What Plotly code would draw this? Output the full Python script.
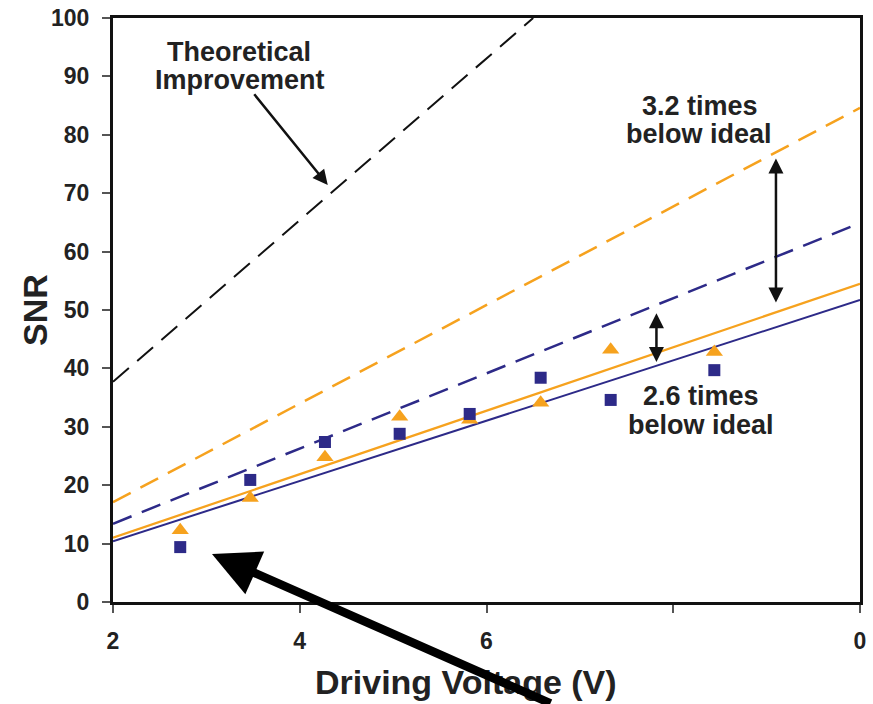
import plotly.graph_objects as go

# ---- data ----
voltage = [2.72, 3.47, 4.27, 5.07, 5.82, 6.58, 7.33, 8.44]
snr_triangles = [12.3, 17.8, 24.8, 31.7, 31.2, 34.1, 43.2, 42.8]
snr_squares = [9.4, 20.9, 27.4, 28.8, 32.2, 38.4, 34.6, 39.7]

fit_x = [2, 10]
orange_ideal = [17.1, 84.6]
blue_ideal = [13.4, 64.9]
orange_fit = [11.0, 54.5]
blue_fit = [10.4, 51.7]

theory_x = [2, 6.5]
theory_y = [37.7, 100.0]

x_tickvals = [2, 4, 6, 8, 10]
x_ticktext = ["2", "4", "6", "", "0"]
y_tickvals = [0, 10, 20, 30, 40, 50, 60, 70, 80, 90, 100]

ORANGE = "#F6A21E"
BLUE = "#2D2A88"
FONT = "Liberation Sans"
TXT = "#222222"

fig = go.Figure()

fig.add_trace(go.Scatter(x=theory_x, y=theory_y, mode="lines",
                         line=dict(color="#111111", width=2, dash="21px,11px")))
fig.add_trace(go.Scatter(x=fit_x, y=orange_ideal, mode="lines",
                         line=dict(color=ORANGE, width=2.5, dash="20px,11px")))
fig.add_trace(go.Scatter(x=fit_x, y=blue_ideal, mode="lines",
                         line=dict(color=BLUE, width=2.5, dash="20px,11px")))
fig.add_trace(go.Scatter(x=fit_x, y=orange_fit, mode="lines",
                         line=dict(color=ORANGE, width=2.3)))
fig.add_trace(go.Scatter(x=fit_x, y=blue_fit, mode="lines",
                         line=dict(color=BLUE, width=2)))
fig.add_trace(go.Scatter(x=voltage, y=snr_triangles, mode="markers",
                         marker=dict(symbol="triangle-up", size=15, color=ORANGE)))
fig.add_trace(go.Scatter(x=voltage, y=snr_squares, mode="markers",
                         marker=dict(symbol="square", size=12, color=BLUE)))

txtfont = dict(family=FONT, size=27, color=TXT, weight="bold")
titlefont = dict(family=FONT, size=34, color=TXT, weight="bold")


def px(xpix):
    return (xpix - 113) / 747


def py(ypix):
    return (602 - ypix) / 584


def label(xpix, ypix, text):
    return dict(x=px(xpix), y=py(ypix), xref="paper", yref="paper",
                text=text, showarrow=False, font=txtfont,
                xanchor="center", yanchor="middle")


annotations = [
    label(239, 52, "Theoretical"),
    label(240, 80, "Improvement"),
    label(700, 106, "3.2 times"),
    label(699, 134, "below ideal"),
    label(701, 396, "2.6 times"),
    label(701, 425, "below ideal"),
    # axis titles
    dict(x=px(466), y=py(682), xref="paper", yref="paper", text="Driving Voltage (V)",
         showarrow=False, font=titlefont, xanchor="center", yanchor="middle"),
    dict(x=px(35), y=py(310), xref="paper", yref="paper", text="SNR", textangle=-90,
         showarrow=False, font=titlefont, xanchor="center", yanchor="middle"),
    # theoretical arrow
    dict(x=4.30, y=71.4, xref="x", yref="y", ax=3.50, ay=87.2, axref="x", ayref="y",
         text="", showarrow=True, arrowhead=2, arrowwidth=2.5, arrowsize=1.2,
         arrowcolor="#111111"),
    # 3.2 double arrow
    dict(x=9.10, y=51.3, xref="x", yref="y", ax=9.10, ay=76.2, axref="x", ayref="y",
         text="", showarrow=True, arrowhead=2, startarrowhead=2, arrowside="end+start",
         arrowwidth=2.5, arrowsize=1.2, startarrowsize=1.2, arrowcolor="#111111"),
    # 2.6 double arrow
    dict(x=7.82, y=41.1, xref="x", yref="y", ax=7.82, ay=49.7, axref="x", ayref="y",
         text="", showarrow=True, arrowhead=2, startarrowhead=2, arrowside="end+start",
         arrowwidth=2.5, arrowsize=1.2, startarrowsize=1.2, arrowcolor="#111111"),
    # big arrow
    dict(x=3.06, y=8.2, xref="x", yref="y", ax=340, ay=156,
         text="", showarrow=True, arrowhead=2, arrowwidth=8.5, arrowsize=1.1,
         arrowcolor="#000000"),
]

fig.update_layout(
    width=873, height=704,
    margin=dict(l=113, r=13, t=18, b=102),
    paper_bgcolor="white", plot_bgcolor="white",
    showlegend=False,
    annotations=annotations,
    font=dict(family=FONT, color=TXT),
)

fig.update_xaxes(
    range=[2, 10], tickvals=x_tickvals, ticktext=x_ticktext,
    showgrid=False, zeroline=False, automargin=False,
    showline=True, linecolor="#111111", linewidth=3, mirror=True,
    ticks="outside", ticklen=8, tickwidth=2, tickcolor="#555555",
    ticklabelstandoff=8,
    tickfont=dict(family=FONT, size=23, color=TXT, weight="bold"),
)
fig.update_yaxes(
    range=[0, 100], tickvals=y_tickvals,
    showgrid=False, zeroline=False, automargin=False,
    showline=True, linecolor="#111111", linewidth=3, mirror=True,
    ticks="outside", ticklen=8, tickwidth=2, tickcolor="#555555",
    ticklabelstandoff=8,
    tickfont=dict(family=FONT, size=23, color=TXT, weight="bold"),
)

fig.write_html("out.html")
